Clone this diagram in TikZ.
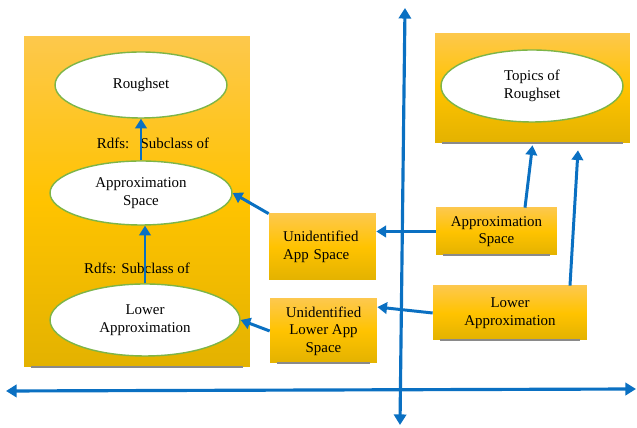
\documentclass[tikz,border=0pt]{standalone}
\usepackage{fontspec}
\setmainfont{Liberation Serif}
\usetikzlibrary{shapes.geometric,arrows.meta}
\definecolor{goldtop}{HTML}{FDC84C}
\definecolor{goldmid}{HTML}{FFC300}
\definecolor{goldbot}{HTML}{E3B200}
\definecolor{blobline}{HTML}{7DB548}
\definecolor{linkblue}{HTML}{0A70C2}
\definecolor{shadeline}{HTML}{8A8A8A}
\begin{document}
\begin{tikzpicture}[
    x=0.02cm, y=-0.02cm,
    font=\fontsize{8.5}{10}\selectfont,
    panel/.style={rectangle, top color=goldtop, bottom color=goldbot, middle color=goldmid, align=center, inner sep=0pt},
    blob/.style={ellipse, draw=blobline, line width=0.8pt, fill=white, align=center, inner sep=0pt},
    link/.style={draw=linkblue, line width=1.7pt, -{Triangle[length=5.5pt,width=6.5pt]}},
    axis/.style={draw=linkblue, line width=1.8pt, {Triangle[length=6pt,width=7pt]}-{Triangle[length=6pt,width=7pt]}},
  ]
  \useasboundingbox (0,0) rectangle (637,428);

  % panels
  \node[panel, minimum width=4.52cm, minimum height=6.62cm] (leftpanel) at (137,201.5) {};
  \node[panel, minimum width=3.9cm, minimum height=2.2cm] (toppanel) at (532.5,88) {};
  \node[panel, minimum width=2.42cm, minimum height=0.94cm] (appbox) at (496.5,231.5) {Approximation\\Space};
  \node[panel, minimum width=3.08cm, minimum height=1.08cm] (lowbox) at (510,313) {Lower\\Approximation};
  \node[panel, align=left, text width=1.58cm, inner xsep=0.28cm, minimum height=1.32cm] (unidapp) at (322.5,247) {Unidentified\\App Space};
  \node[panel, minimum width=2.14cm, minimum height=1.28cm] (unidlow) at (323.5,331) {Unidentified\\Lower App\\Space};
  \foreach \p in {leftpanel, toppanel, appbox, lowbox, unidlow}
    \draw[shadeline, line width=1.2pt] ([xshift=4pt]\p.south west) -- ([xshift=-4pt]\p.south east);

  % ellipses
  \node[blob, minimum width=3.44cm, minimum height=1.32cm] (roughset) at (141,85) {Roughset};
  \node[blob, minimum width=3.64cm, minimum height=1.28cm] (approx) at (141,193) {Approximation\\Space};
  \node[blob, minimum width=3.8cm, minimum height=1.44cm] (lower) at (145,320) {Lower\\Approximation};
  \node[blob, minimum width=3.64cm, minimum height=1.44cm] (topics) at (532,86) {Topics of\\Roughset};

  \node (rdfsup) at (153,143) {Rdfs:\ \ \ Subclass of};
  \node (rdfslow) at (137,268) {Rdfs: Subclass of};

  % axes
  \coordinate (ytop) at (405,8);
  \coordinate (ybot) at (400,425);
  \coordinate (xleft) at (6,391);
  \coordinate (xright) at (636,389);
  \draw[axis] (ybot) -- (ytop);
  \draw[axis] (xleft) -- (xright);

  % links
  \draw[link] (approx.north) -- (roughset.south);
  \draw[link] (lower.north) -- (approx.south -| lower.north);
  \draw[link] (unidapp.north west) -- (approx.east);
  \draw[link] (unidlow.west) -- (lower.east);
  \draw[link] (appbox.west) -- (unidapp.east |- appbox.west);
  \draw[link] (lowbox.west) -- (unidlow.24);
  \draw[link] ([xshift=0.57cm]appbox.north) -- ([yshift=-0.04cm]toppanel.south);
  \draw[link] ([xshift=1.2cm]lowbox.north) -- ([xshift=0.91cm, yshift=-0.14cm]toppanel.south);
\end{tikzpicture}
\end{document}
